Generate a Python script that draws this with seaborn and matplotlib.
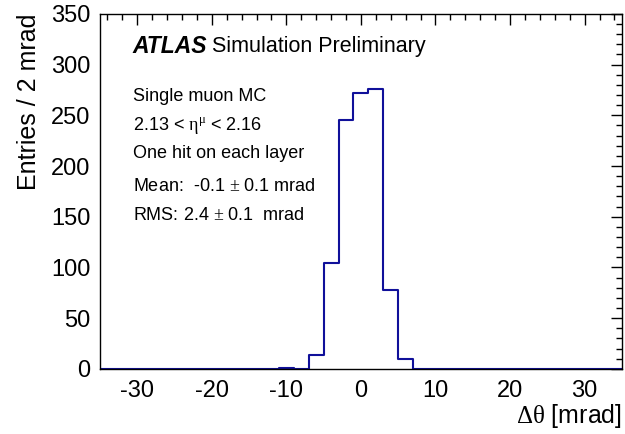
import numpy as np
import seaborn as sns
import matplotlib.pyplot as plt
from matplotlib.ticker import MultipleLocator

# histogram of delta theta, 2 mrad bins from -35 to 35
bin_edges = list(range(-35, 36, 2))
bin_centers = list(range(-34, 35, 2))
counts = [0, 0, 0, 0, 0, 0, 0, 0, 0, 0, 0, 0, 1, 0, 14, 104, 245, 272,
          276, 78, 10, 0, 0, 0, 0, 0, 0, 0, 0, 0, 0, 0, 0, 0, 0]

sns.set_style("white")
plt.rcParams['font.family'] = ['Liberation Sans', 'DejaVu Sans']
plt.rcParams['mathtext.fontset'] = 'custom'
plt.rcParams['mathtext.rm'] = 'Liberation Serif'
plt.rcParams['axes.unicode_minus'] = False
plt.rcParams['text.color'] = 'black'
plt.rcParams['axes.labelcolor'] = 'black'
plt.rcParams['xtick.color'] = 'black'
plt.rcParams['ytick.color'] = 'black'

fig = plt.figure(figsize=(6.25, 4.34), dpi=100)
ax = fig.add_axes([0.16, 0.15, 0.835, 0.818])

sns.histplot(x=bin_centers, weights=counts, bins=bin_edges, element="step",
             fill=False, color="#10109a", linewidth=1.5, ax=ax)

ax.set_xlim(-35, 35)
ax.set_ylim(0, 350)
ax.xaxis.set_major_locator(MultipleLocator(10))
ax.xaxis.set_minor_locator(MultipleLocator(2))
ax.yaxis.set_major_locator(MultipleLocator(50))
ax.yaxis.set_minor_locator(MultipleLocator(10))
ax.tick_params(which="both", direction="in", top=True, right=True,
               labelsize=17, color="black", labelcolor="black")
ax.tick_params(which="major", length=8, width=1)
ax.tick_params(which="minor", length=4, width=1)
ax.tick_params(axis="x", pad=8)
ax.tick_params(axis="y", pad=7)
for s in ax.spines.values():
    s.set_linewidth(1)
    s.set_color("black")

ax.set_xlabel(r"$\mathrm{\Delta\theta}$ [mrad]", fontsize=18, loc="right", labelpad=0)
ax.set_ylabel("Entries / 2 mrad", fontsize=18, loc="top", labelpad=7)

ax.text(0.063, 0.907, "ATLAS", transform=ax.transAxes, fontsize=16.5,
        fontweight="bold", fontstyle="italic", va="center")
ax.text(0.215, 0.907, "Simulation Preliminary", transform=ax.transAxes,
        fontsize=15.5, va="center")
lines = ["Single muon MC",
         r"2.13 < $\mathrm{\eta^{\mu}}$ < 2.16",
         "One hit on each layer",
         r"Mean:  -0.1 $\pm$ 0.1 mrad",
         r"RMS: 2.4 $\pm$ 0.1  mrad"]
ys = [0.766, 0.687, 0.608, 0.513, 0.431]
for t, y in zip(lines, ys):
    ax.text(0.063, y, t, transform=ax.transAxes, fontsize=13, va="center")

fig.savefig("out.png", dpi=100)
